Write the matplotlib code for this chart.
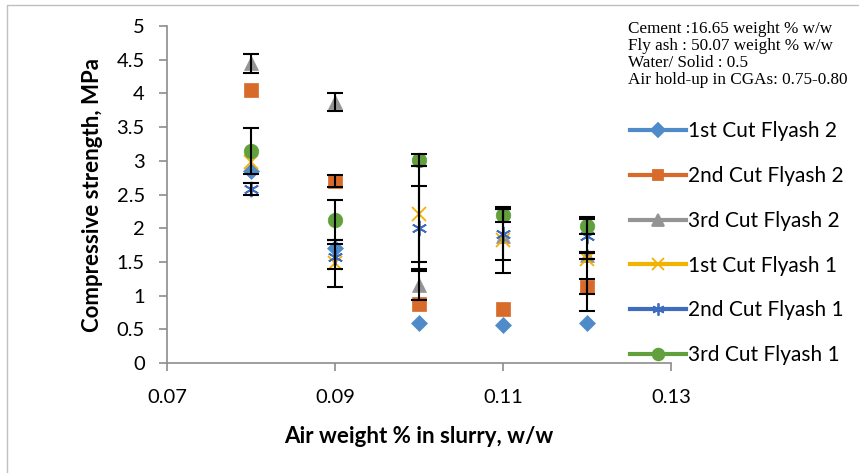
import matplotlib
matplotlib.use('Agg')

import numpy as np
import matplotlib.pyplot as plt
from matplotlib.lines import Line2D
from matplotlib.patches import Rectangle

# === Data ===
air_wt = [0.08, 0.09, 0.10, 0.11, 0.12]

labels = ["1st Cut Flyash 2", "2nd Cut Flyash 2", "3rd Cut Flyash 2",
          "1st Cut Flyash 1", "2nd Cut Flyash 1", "3rd Cut Flyash 1"]

cut1_fa2 = [2.85, 1.70, 0.60, 0.56, 0.59]
cut2_fa2 = [4.05, 2.70, 0.88, 0.80, 1.13]
cut3_fa2 = [4.45, 3.87, 1.15, 1.88, 1.60]
cut1_fa1 = [2.98, 1.48, 2.21, 1.82, 1.55]
cut2_fa1 = [2.58, 1.58, 2.01, 1.91, 1.88]
cut3_fa1 = [3.15, 2.12, 3.01, 2.19, 2.04]

# error bars (lower, upper)
err_lo = [
    [0, 0, 0, 0, 0],
    [0, 0.09, 0, 0, 0.11],
    [0.14, 0.13, 0.22, 0, 0.05],
    [0, 0.35, 0.71, 0.49, 0.78],
    [0.09, 0.19, 0.62, 0.38, 0.25],
    [0.34, 0.30, 0.09, 0.10, 0.12],
]
err_hi = [
    [0, 0, 0, 0, 0],
    [0, 0.09, 0, 0, 0.11],
    [0.14, 0.13, 0.22, 0, 0.05],
    [0, 0.35, 0.71, 0.49, 0.10],
    [0.09, 0.19, 0.62, 0.38, 0.25],
    [0.34, 0.30, 0.09, 0.10, 0.12],
]

series = [cut1_fa2, cut2_fa2, cut3_fa2, cut1_fa1, cut2_fa1, cut3_fa1]
colors = ["#4F8BC9", "#D86B2A", "#949494", "#F2B200", "#3F6CBF", "#62A03E"]
markers = ["D", "s", "^", "x", (6, 2, 0), "o"]
msizes = [8.5, 9.5, 10, 10, 11, 10.5]

note = ("Cement :16.65 weight % w/w\n"
        "Fly ash : 50.07 weight % w/w\n"
        "Water/ Solid : 0.5\n"
        "Air hold-up in CGAs: 0.75-0.80")

# === Figure ===
font = ["Lato", "DejaVu Sans"]
fig = plt.figure(figsize=(8.59, 4.73), dpi=100)
ax = fig.add_axes([167 / 859, 110 / 473, 504 / 859, 337 / 473])

for i, ys in enumerate(series):
    mk = markers[i]
    thin = mk in ("x", (6, 2, 0))
    ax.plot(air_wt, ys, linestyle="none", marker=mk, ms=msizes[i],
            color=colors[i], mec=colors[i], mew=1.3 if thin else 0.5, zorder=3 + i)

for i, ys in enumerate(series):
    lo = np.array(err_lo[i])
    hi = np.array(err_hi[i])
    keep = (lo > 0) | (hi > 0)
    if not keep.any():
        continue
    xs = np.array(air_wt)[keep]
    ax.errorbar(xs, np.array(ys)[keep], yerr=[lo[keep], hi[keep]],
                fmt="none", ecolor="black", elinewidth=1.5, capsize=6,
                capthick=1.5, zorder=10)

# === Style ===
ax.set_xlim(0.07, 0.13)
ax.set_ylim(0, 5)
ax.set_xticks([0.07, 0.09, 0.11, 0.13])
ax.set_xticklabels(["0.07", "0.09", "0.11", "0.13"])
ax.set_yticks(np.arange(0, 5.01, 0.5))
ax.set_yticklabels(["0", "0.5", "1", "1.5", "2", "2.5", "3", "3.5", "4", "4.5", "5"])
for s in ("top", "right"):
    ax.spines[s].set_visible(False)
for s in ("left", "bottom"):
    ax.spines[s].set_color("#8C8C8C")
    ax.spines[s].set_linewidth(1.2)
ax.tick_params(axis="both", colors="#8C8C8C", length=6, width=1.2,
               labelsize=14.5, labelcolor="black")
ax.tick_params(axis="x", pad=13)
ax.tick_params(axis="y", pad=10)
for t in ax.get_xticklabels() + ax.get_yticklabels():
    t.set_family(font)

ax.set_xlabel("Air weight % in slurry, w/w", fontsize=16, fontweight="bold",
              family=font, labelpad=14)
ax.set_ylabel("Compressive strength, MPa", fontsize=16, fontweight="bold",
              family=font, labelpad=10)

handles = [Line2D([], [], color=colors[i], lw=3, marker=markers[i],
                  ms=msizes[i] * 0.8, mew=1.3) for i in range(6)]
fig.legend(handles, labels, loc="upper left", bbox_to_anchor=(622 / 859, 1 - 113 / 473),
           frameon=False, prop={"family": font, "size": 15}, handlelength=2.65,
           handletextpad=0.1, labelspacing=1.19, borderaxespad=0)

fig.text(628 / 859, 1 - 21 / 473, note, family="Liberation Serif", fontsize=12.3,
         va="top", ha="left", linespacing=1.08)

# light outer frame
fig.patches.append(Rectangle((7 / 859, -0.05), 1.1, 1 - 5 / 473 + 0.05,
                             transform=fig.transFigure, fill=False,
                             edgecolor="#BFBFBF", lw=1.0))

fig.savefig("out.png", dpi=100)
